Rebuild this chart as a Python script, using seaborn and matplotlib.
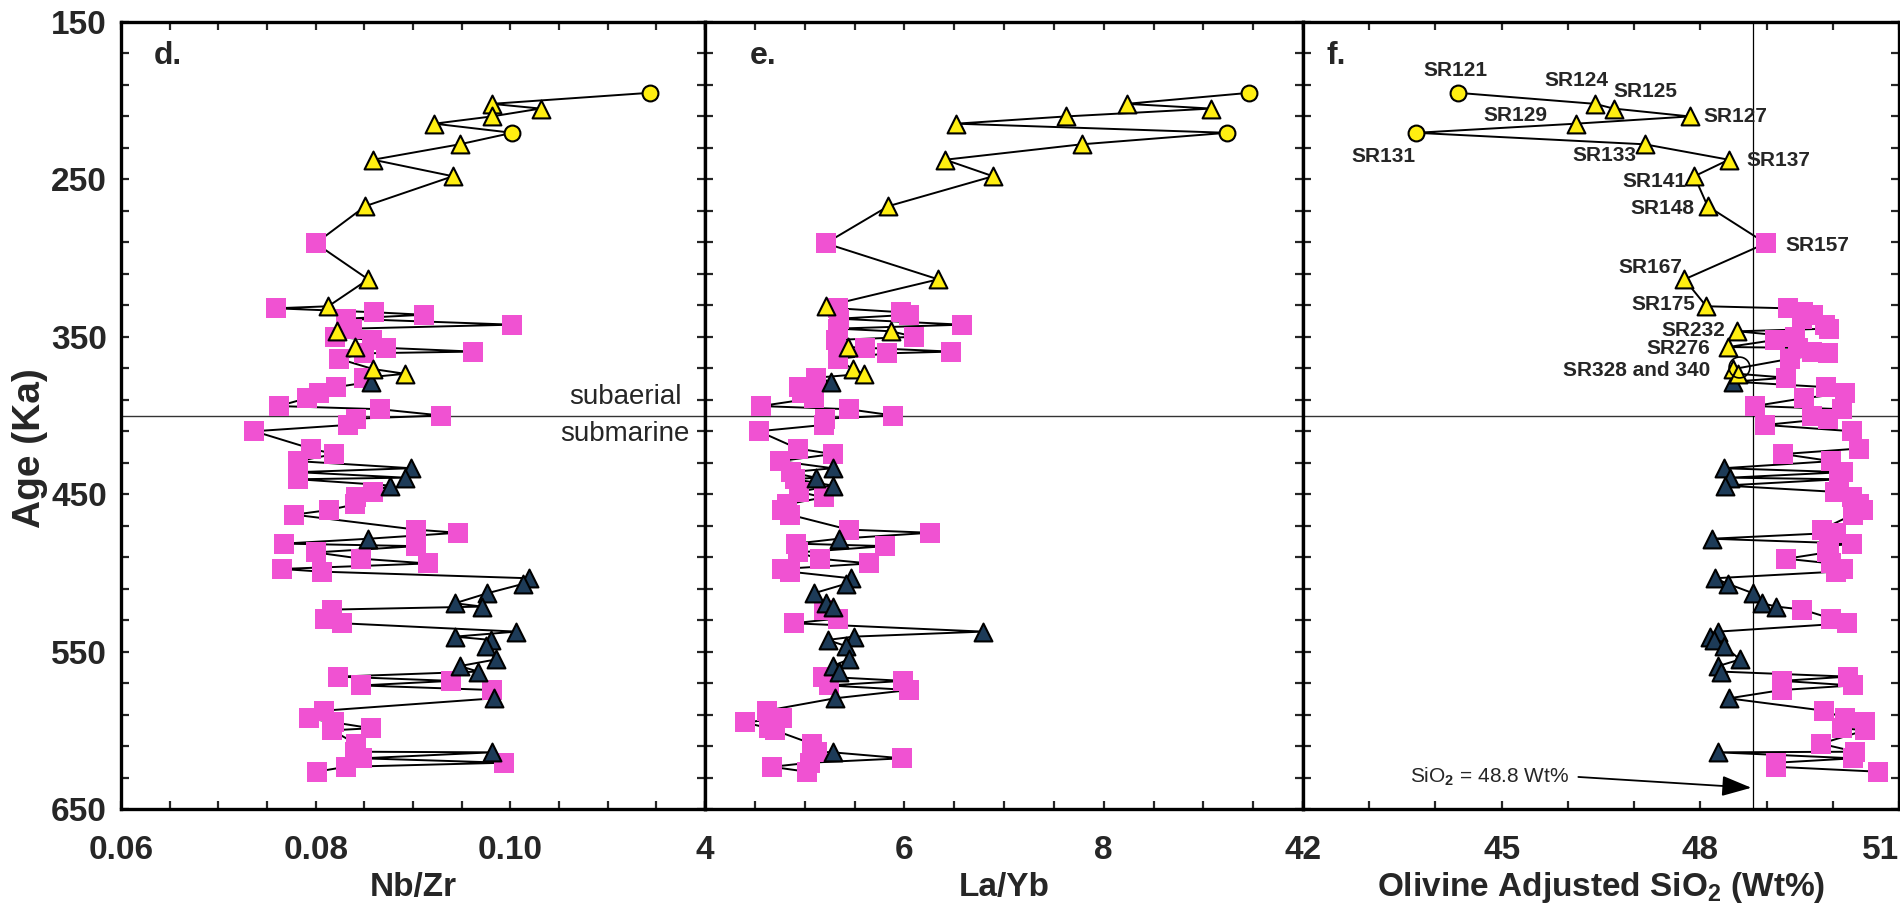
import numpy as np
import pandas as pd
import matplotlib
matplotlib.use("Agg")
import matplotlib.pyplot as plt
import seaborn as sns
from matplotlib.ticker import FixedLocator

# ---------------- data ----------------
age = [195, 202, 205, 210, 214.6, 220.4, 227.7, 237.5, 248, 267,
       290.6, 313.5, 330.6, 331.9, 334.4, 336, 338.5, 342.3, 344.8, 346.5,
       350, 352, 356.5, 357, 359.4, 360.5, 364, 370.5, 373.5, 376,
       378.5, 382, 386, 389, 394, 396, 400, 402, 406, 410,
       421, 424.5, 429, 433.5, 436, 439.5, 440.5, 444.5, 448.5, 452,
       456.5, 460, 463, 472.5, 474.5, 478.3, 481.4, 483, 487, 491,
       494, 497.5, 499.2, 503.4, 507, 513, 519.3, 521.4, 523.3, 529,
       532, 537.3, 540.5, 542.6, 546.4, 555, 559.2, 562.7, 565.9, 568.6,
       571.5, 574.4, 579.7, 587.5, 592.4, 595, 598.7, 600, 608.5, 613.6,
       614, 617.8, 620.6, 623.2, 626.3]

# C = subaerial circle, Y = subaerial triangle, S = pink square, B = blue triangle
kind = ["C", "Y", "Y", "Y", "Y", "C", "Y", "Y", "Y", "Y",
        "S", "Y", "Y", "S", "S", "S", "S", "S", "S", "Y",
        "S", "S", "Y", "S", "S", "S", "S", "Y", "Y", "S",
        "B", "S", "S", "S", "S", "S", "S", "S", "S", "S",
        "S", "S", "S", "B", "S", "B", "S", "B", "S", "S",
        "S", "S", "S", "S", "S", "B", "S", "S", "S", "S",
        "S", "S", "S", "B", "B", "B", "B", "B", "S", "S",
        "S", "B", "B", "B", "B", "B", "B", "B", "S", "S",
        "S", "S", "B", "S", "S", "S", "S", "S", "S", "S",
        "B", "S", "S", "S", "S"]

nb_zr = [.1143, .0981, .1031, .0981, .0922, .1002, .0948, .0859, .0941, .0851,
         .0800, .0854, .0813, .0759, .0860, .0911, .0831, .1002, .0837, .0822,
         .0820, .0858, .0840, .0872, .0962, .0850, .0824, .0859, .0892, .0850,
         .0857, .0821, .0803, .0791, .0762, .0866, .0929, .0841, .0833, .0737,
         .0795, .0819, .0782, .0898, .0782, .0892, .0782, .0876, .0859, .0841,
         .0840, .0814, .0778, .0903, .0946, .0854, .0767, .0903, .0800, .0847,
         .0915, .0765, .0806, .1019, .1013, .0976, .0943, .0971, .0817, .0810,
         .0827, .1006, .0943, .0980, .0975, .0985, .0948, .0967, .0823, .0939,
         .0847, .0981, .0983, .0809, .0793, .0819, .0857, .0817, .0841, .0840,
         .0981, .0848, .0994, .0831, .0801]

la_yb = [9.46, 8.23, 9.08, 7.62, 6.52, 9.24, 7.78, 6.41, 6.89, 5.84,
         5.21, 6.34, 5.21, 5.33, 5.97, 6.05, 5.34, 6.58, 5.33, 5.87,
         6.10, 5.31, 5.43, 5.61, 6.47, 5.83, 5.33, 5.48, 5.60, 5.11,
         5.26, 4.94, 4.97, 5.09, 4.56, 5.44, 5.89, 5.20, 5.19, 4.54,
         4.93, 5.28, 4.75, 5.28, 4.86, 5.11, 4.90, 5.28, 4.94, 5.19,
         4.82, 4.77, 4.85, 5.44, 6.26, 5.34, 4.91, 5.81, 4.93, 5.15,
         5.65, 4.77, 4.85, 5.46, 5.41, 5.09, 5.21, 5.28, 5.19, 5.33,
         4.89, 6.79, 5.49, 5.23, 5.41, 5.44, 5.28, 5.34, 5.18, 5.99,
         5.24, 6.05, 5.30, 4.62, 4.77, 4.40, 4.64, 4.70, 5.07, 5.12,
         5.28, 5.98, 5.05, 4.67, 5.02]

sio2 = [44.34, 46.41, 46.69, 47.84, 46.12, 43.71, 47.16, 48.43, 47.91, 48.11,
        48.99, 47.76, 48.09, 49.32, 49.55, 49.70, 49.53, 49.88, 49.95, 48.56,
        49.43, 49.13, 48.42, 49.48, 49.68, 49.93, 49.35, 48.50, 48.57, 49.30,
        48.50, 49.90, 50.18, 49.56, 48.82, 50.14, 49.68, 49.93, 48.98, 50.29,
        50.39, 49.25, 49.98, 48.35, 50.16, 48.45, 50.10, 48.37, 50.03, 50.29,
        50.39, 50.45, 50.30, 49.83, 50.05, 48.17, 50.29, 49.95, 49.91, 49.30,
        49.98, 50.16, 50.05, 48.22, 48.42, 48.80, 48.93, 49.15, 49.54, 49.98,
        50.21, 48.27, 48.14, 48.20, 48.35, 48.60, 48.27, 48.31, 50.23, 49.23,
        50.30, 49.23, 48.43, 49.86, 50.19, 50.49, 50.14, 50.49, 49.82, 50.34,
        48.27, 50.31, 49.15, 49.15, 50.69]

sample_names = ["SR121", "SR124", "SR125", "SR127", "SR129", "SR131", "SR133",
                "SR137", "SR141", "SR148", "SR157", "SR167", "SR175", "SR232",
                "SR276", "SR328 and 340"]
sample_index = [0, 1, 2, 3, 4, 5, 6, 7, 8, 9, 10, 11, 12, 19, 22, 27]

boundary_age = 400
sio2_ref = 48.8

d_ticks = [0.06, 0.08, 0.10]
e_ticks = [4, 6, 8]
f_ticks = [42, 45, 48, 51]
y_ticks = [150, 250, 350, 450, 550, 650]

# ---------------- style ----------------
sns.set_style("ticks")
plt.rcParams["font.family"] = ["Liberation Sans", "DejaVu Sans"]
plt.rcParams["font.weight"] = "bold"
plt.rcParams["mathtext.fontset"] = "custom"
plt.rcParams["mathtext.rm"] = "Liberation Sans"
plt.rcParams["mathtext.bf"] = "Liberation Sans:bold"
plt.rcParams["mathtext.it"] = "Liberation Sans:italic"

PINK = "#F052D2"
YELLOW = "#FFEE11"
NAVY = "#1D3B58"

marker_style = {
    "S": dict(marker="s", s=190, color=PINK, edgecolor=PINK, linewidth=0),
    "B": dict(marker="^", s=165, color=NAVY, edgecolor="black", linewidth=1.5),
    "Y": dict(marker="^", s=165, color=YELLOW, edgecolor="black", linewidth=1.5),
    "C": dict(marker="o", s=130, color=YELLOW, edgecolor="black", linewidth=1.5),
}

df = pd.DataFrame(dict(age=age, kind=kind, nbzr=nb_zr, layb=la_yb, sio2=sio2))

W, H = 1900, 917
fig = plt.figure(figsize=(W / 100, H / 100), dpi=100)
top_px, bot_px = 22, 809
b = 1 - bot_px / H
h = (bot_px - top_px) / H
axd = fig.add_axes([121 / W, b, 584 / W, h])
axe = fig.add_axes([705 / W, b, 598 / W, h], sharey=axd)
axf = fig.add_axes([1303 / W, b, 596 / W, h], sharey=axd)

panels = [
    (axd, "nbzr", (0.06, 0.12), d_ticks, ["0.06", "0.08", "0.10"], np.arange(0.06, 0.12001, 0.005), "Nb/Zr", "d.", 0.056),
    (axe, "layb", (4, 10), e_ticks, ["4", "6", "8"], np.arange(4, 10.001, 0.5), "La/Yb", "e.", 0.074),
    (axf, "sio2", (42, 51), f_ticks, ["42", "45", "48", "51"], np.arange(42, 51.001, 1.0),
     r"Olivine Adjusted SiO$_{\mathbf{2}}$ (Wt%)", "f.", 0.040),
]

for ax, col, xlim, ticks, labels, minors, xlabel, tag, tagx in panels:
    ax.axhline(boundary_age, color="#333333", lw=1.0, zorder=1)
    sns.lineplot(data=df, x=col, y="age", sort=False, estimator=None,
                 color="black", lw=1.4, ax=ax, zorder=2)
    for k in ["S", "B", "Y", "C"]:
        sub = df[df["kind"] == k]
        sns.scatterplot(data=sub, x=col, y="age", ax=ax, zorder=3, legend=False,
                        **marker_style[k])
    ax.set_xlim(*xlim)
    ax.set_ylim(650, 150)
    ax.xaxis.set_major_locator(FixedLocator(ticks))
    ax.set_xticklabels(labels)
    ax.xaxis.set_minor_locator(FixedLocator(minors))
    ax.yaxis.set_major_locator(FixedLocator(y_ticks))
    ax.yaxis.set_minor_locator(FixedLocator(np.arange(150, 651, 20)))
    ax.tick_params(axis="both", which="both", direction="in", top=True, right=True,
                   length=6, width=1.6, labelsize=24)
    ax.tick_params(axis="x", which="major", pad=19)
    ax.tick_params(axis="y", which="major", pad=10)
    for sp in ax.spines.values():
        sp.set_linewidth(2.4)
        sp.set_color("black")
    ax.set_xlabel(xlabel, fontsize=24, fontweight="bold")
    ax.xaxis.set_label_coords(0.5, -0.100)
    ax.xaxis.label.set_va("center")
    ax.set_ylabel("")
    ax.text(tagx, 0.957, tag, transform=ax.transAxes, ha="left", va="center",
            fontsize=23, fontweight="bold")

axe.tick_params(axis="y", labelleft=False)
axf.tick_params(axis="y", labelleft=False)
axf.get_xticklabels()[-1].set_ha("right")

fig.text(30 / W, 1 - 448 / H, "Age (Ka)", rotation=90, ha="center", va="center",
         fontsize=28, fontweight="bold")

# subaerial / submarine
axd.text(0.1118, 388.5, "subaerial", ha="center", va="center", fontsize=20, fontweight="normal")
axd.text(0.1118, 411.5, "submarine", ha="center", va="center", fontsize=20, fontweight="normal")

# SiO2 reference line + arrow
axf.axvline(sio2_ref, color="black", lw=0.9, zorder=1)
axf.annotate(r"SiO$_{\mathrm{2}}$ = 48.8 Wt%", xy=(sio2_ref - 0.03, 636.5), xytext=(43.62, 629.3),
             ha="left", va="center", fontsize=15, fontweight="normal",
             arrowprops=dict(arrowstyle="-|>,head_length=1.3,head_width=0.45",
                             mutation_scale=14, lw=1.3, color="black",
                             shrinkA=4, shrinkB=0, relpos=(1, 0.5)))

# sample labels in panel f
label_offsets = {
    "SR121": (-2, 22, "center"), "SR124": (-19, 23, "center"), "SR125": (32, 17, "center"),
    "SR127": (14, 0, "left"), "SR129": (-60, 8, "center"), "SR131": (-33, -24, "center"),
    "SR133": (-40, -11, "center"), "SR137": (18, -1, "left"), "SR141": (-8, -5, "right"),
    "SR148": (-13, -2, "right"), "SR157": (20, -2, "left"), "SR167": (-2, 12, "right"),
    "SR175": (-11, 2, "right"), "SR232": (-12, 1, "right"), "SR276": (-18, -1, "right"),
    "SR328 and 340": (-23, -1, "right"),
}
for name, i in zip(sample_names, sample_index):
    dx, dy, ha = label_offsets[name]
    axf.annotate(name, xy=(sio2[i], age[i]), xytext=(dx, dy), textcoords="offset pixels",
                 ha=ha, va="center", fontsize=15, fontweight="bold", zorder=5)

# open ring marking SR328 and 340
axf.plot([48.58], [369.5], marker="o", ms=15, mfc="none", mec="black", mew=1.2, zorder=4)

fig.savefig("out.png", dpi=100)
